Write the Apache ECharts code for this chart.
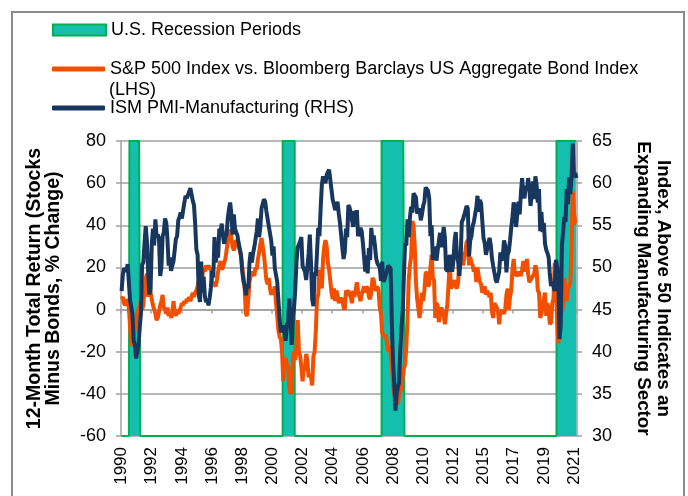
<!DOCTYPE html>
<html><head><meta charset="utf-8">
<script src="https://cdn.jsdelivr.net/npm/echarts@6/dist/echarts.min.js"></script>
<style>html,body{margin:0;padding:0;background:#fff}#c{width:688px;height:496px}</style>
</head><body><div id="c"></div>
<script>
// Monthly categories Jan 1990 .. Jun 2021
const startYear = 1990, endYear = 2021, endMonth = 6;
const categories = [];
for (let y = startYear; y <= endYear; y++) {
  for (let m = 1; m <= 12; m++) {
    if (y === endYear && m > endMonth) break;
    categories.push(y + '-' + String(m).padStart(2, '0'));
  }
}
// Recession periods (shaded)
const recessions = [['1990-08', '1991-04'], ['2001-03', '2001-12'], ['2008-01', '2009-07'], ['2020-02', '2021-06']];

// S&P 500 vs Bloomberg Barclays US Agg: 12-month total return difference (%), LHS
const spxVsAgg = [
  5, 6, 3, 2, 5, 3, 1, -8, -17, -16, -12, -9,          // 1990
  -6, -2, 0, 2, 4, 0, 2, 10, 15, 17, 6, 12,            // 1991
  8, 5, 2, 0, -2, -5, -4, -1, 2, 4, 7, 1,              // 1992
  0, -2, 1, -3, -1, -4, -2, 4, -1, -3, 0, -2,          // 1993
  -2, 1, 3, 2, 4, 3, 5, 4, 6, 4, 6, 8,                 // 1994
  6, 8, 9, 11, 14, 15, 18, 16, 20, 18, 21, 19,         // 1995
  21, 19, 20, 12, 13, 12, 11, 14, 18, 21, 23, 19,      // 1996
  20, 22, 24, 28, 32, 36, 38, 34, 30, 28, 30, 33,      // 1997
  32, 30, 28, 25, 20, 16, 10, -2, -3, 5, 13, 16,       // 1998
  18, 17, 16, 20, 19, 24, 27, 31, 34, 30, 26, 20,      // 1999
  14, 12, 15, 10, 7, 9, 8, 11, 3, -3, -10, -13,        // 2000
  -14, -20, -34, -24, -23, -26, -27, -37, -40, -39, -23, -20, // 2001
  -24, -17, -5, -20, -22, -27, -34, -28, -29, -21, -24, -32,  // 2002
  -31, -32, -36, -22, -20, -10, 5, 7, 19, 15, 10, 24,  // 2003
  30, 33, 30, 22, 19, 19, 8, 5, 10, 4, 9, 7,           // 2004
  3, 5, 5, 5, 1, 0, 9, 8, 9, 7, 6, 3,                  // 2005
  9, 6, 9, 13, 9, 9, 4, 7, 7, 11, 8, 11,               // 2006
  10, 6, 5, 8, 15, 14, 10, 9, 11, 9, 1, -2,            // 2007
  -11, -11, -13, -12, -12, -20, -17, -17, -26, -36, -40, -42, // 2008
  -41, -45, -41, -39, -38, -32, -28, -26, -18, -4, 14, 21,    // 2009
  25, 42, 40, 30, 13, 5, 5, -4, 2, 8, 4, 9,            // 2010
  17, 18, 11, 12, 20, 26, 15, 14, -4, 3, 2, -6,        // 2011
  -1, 1, 1, -3, -7, -2, 2, 12, 22, 10, 11, 12,         // 2012
  14, 11, 10, 13, 26, 21, 27, 21, 21, 28, 32, 33,      // 2013
  21, 25, 22, 21, 18, 20, 13, 20, 16, 13, 12, 8,       // 2014
  8, 11, 7, 9, 9, 6, 8, -1, -4, 3, 2, 1,               // 2015
  -1, -7, 0, -2, -1, -2, 0, 7, 10, 0, 6, 9,            // 2016
  19, 24, 17, 17, 16, 18, 17, 16, 19, 23, 21, 18,      // 2017
  24, 17, 13, 14, 15, 15, 17, 21, 19, 9, 8, -4,        // 2018
  -2, 2, 5, 8, -3, 3, 0, -7, -6, 3, 5, 22,             // 2019
  12, -4, -16, -10, 3, -1, 2, 15, 8, 4, 10, 11,        // 2020
  13, 30, 56, 46, 41, 41                               // 2021
];

// ISM PMI-Manufacturing, RHS
const ismPmi = [
  47.2, 49.1, 49.9, 50.0, 49.5, 50.4, 48.3, 46.1, 46.2, 44.5, 41.3, 40.8, // 1990
  39.2, 39.4, 40.7, 42.8, 44.5, 50.3, 50.6, 52.9, 54.9, 53.1, 49.5, 46.8, // 1991
  47.3, 52.7, 54.6, 52.6, 55.7, 53.6, 53.9, 53.4, 49.0, 50.0, 53.7, 54.2, // 1992
  55.8, 55.3, 53.4, 50.2, 51.2, 49.6, 50.2, 50.7, 50.8, 53.4, 53.7, 55.6, // 1993
  56.0, 56.5, 55.8, 56.8, 57.0, 58.5, 58.2, 58.0, 59.0, 59.4, 59.2, 57.9, // 1994
  57.4, 55.1, 52.1, 51.5, 46.7, 45.9, 50.7, 47.0, 48.9, 46.6, 45.9, 46.2, // 1995
  45.5, 46.4, 47.6, 49.6, 48.8, 53.6, 50.6, 51.6, 51.2, 54.6, 54.2, 55.2, // 1996
  53.8, 52.8, 53.6, 53.9, 55.8, 56.9, 57.7, 56.3, 53.9, 56.3, 54.6, 54.5, // 1997
  53.8, 52.9, 52.2, 51.5, 49.5, 48.4, 47.8, 46.7, 48.0, 47.5, 50.5, 51.8, // 1998
  50.6, 51.7, 52.4, 52.3, 54.3, 55.8, 53.6, 54.8, 57.0, 57.2, 58.1, 57.8, // 1999
  56.7, 55.8, 54.9, 54.7, 53.2, 51.4, 52.5, 49.9, 49.9, 48.3, 48.5, 43.9, // 2000
  42.3, 42.1, 43.1, 42.7, 41.3, 43.2, 43.5, 46.3, 46.2, 40.8, 44.1, 45.3, // 2001
  47.5, 50.7, 52.4, 52.4, 53.1, 53.6, 50.2, 50.3, 49.5, 48.5, 48.5, 51.6, // 2002
  53.9, 50.5, 46.2, 45.4, 49.4, 49.0, 51.8, 54.7, 53.7, 57.0, 59.8, 60.8, // 2003
  61.0, 60.0, 61.0, 61.2, 61.6, 60.4, 60.2, 58.0, 57.5, 56.8, 57.0, 57.8, // 2004
  56.4, 55.3, 55.2, 52.3, 51.0, 51.8, 54.6, 53.6, 57.4, 57.1, 57.0, 55.6, // 2005
  54.8, 56.7, 55.2, 56.8, 53.7, 53.8, 54.7, 54.3, 52.9, 51.2, 49.5, 51.4, // 2006
  49.3, 52.3, 50.9, 54.7, 52.9, 53.8, 52.6, 51.1, 50.5, 50.4, 50.0, 48.4, // 2007
  50.7, 48.3, 48.6, 48.6, 49.6, 50.2, 50.0, 49.9, 43.5, 38.9, 36.2, 33.0, // 2008
  34.9, 35.8, 36.3, 40.1, 42.8, 44.8, 48.9, 52.9, 52.6, 55.7, 53.6, 55.9, // 2009
  57.2, 56.5, 58.8, 58.7, 58.3, 56.4, 56.4, 57.0, 55.6, 56.3, 57.3, 57.8, // 2010
  59.5, 59.4, 59.1, 58.2, 53.7, 55.0, 50.9, 51.4, 52.5, 50.8, 52.0, 53.1, // 2011
  54.1, 52.4, 53.4, 54.8, 53.5, 49.7, 49.8, 49.6, 51.5, 51.7, 49.5, 50.7, // 2012
  53.1, 54.2, 51.3, 50.7, 49.0, 50.9, 55.4, 55.7, 56.2, 56.4, 57.3, 57.0, // 2013
  51.3, 53.2, 53.7, 54.9, 55.4, 55.3, 57.1, 58.5, 56.6, 58.0, 57.6, 55.5, // 2014
  53.5, 52.9, 51.5, 51.5, 52.8, 53.5, 52.7, 51.1, 50.2, 50.1, 48.6, 48.2, // 2015
  48.2, 49.5, 51.8, 50.8, 51.3, 53.2, 52.6, 49.4, 51.5, 51.9, 53.2, 54.7, // 2016
  56.0, 57.7, 57.2, 54.8, 54.9, 57.8, 56.3, 58.8, 60.6, 58.7, 58.2, 59.7, // 2017
  59.1, 60.6, 59.3, 57.3, 58.7, 60.2, 58.1, 60.8, 59.8, 57.7, 59.3, 54.3, // 2018
  56.6, 54.2, 55.3, 52.8, 52.1, 51.7, 51.2, 49.1, 47.8, 48.3, 48.1, 47.2, // 2019
  50.9, 50.1, 49.1, 41.5, 43.1, 52.6, 54.2, 56.0, 55.4, 59.3, 57.5, 60.7, // 2020
  58.7, 60.8, 64.7, 60.7, 61.2, 60.6                                      // 2021
];

const recessionFlags = categories.map(c => recessions.some(([a, b]) => c >= a && c <= b) ? 1 : 0);

const names = {
  rec: 'U.S. Recession Periods',
  spx: 'S&P 500 Index vs. Bloomberg Barclays US Aggregate Bond Index',
  ism: 'ISM PMI-Manufacturing (RHS)'
};
const FONT = 'Liberation Sans, Arial, sans-serif';
const GRID_GRAY = '#A0A0A0';
const TEAL = '#14BFB0', GREEN = '#00B050', ORANGE = '#F25000', NAVY = '#17375E';

const chart = echarts.init(document.getElementById('c'), null, { renderer: 'canvas' });
const legendBase = {
  left: 52, itemWidth: 53, selectedMode: false, padding: 0,
  textStyle: { fontSize: 18, fontFamily: FONT, color: '#000' }
};
chart.setOption({
  animation: false,
  backgroundColor: '#fff',
  textStyle: { fontFamily: FONT },
  grid: { left: 121, right: 111, top: 141, bottom: 60, containLabel: false },
  graphic: [
    { type: 'rect', z: -10, shape: { x: 12, y: 12, width: 672, height: 500 },
      style: { fill: null, stroke: '#8C8C8C', lineWidth: 2 } },
    { type: 'text', x: 109, y: 81, style: { text: '(LHS)', fontSize: 18, fontFamily: FONT, fill: '#000' } }
  ],
  legend: [
    Object.assign({}, legendBase, { data: [names.rec], top: 21, itemHeight: 11, icon: 'rect',
      itemStyle: { color: TEAL, borderColor: GREEN, borderWidth: 2 } }),
    Object.assign({}, legendBase, { data: [names.spx], top: 60, itemHeight: 5, icon: 'roundRect' }),
    Object.assign({}, legendBase, { data: [names.ism], top: 99, itemHeight: 5, icon: 'roundRect' })
  ],
  xAxis: [
    { type: 'category', data: categories, boundaryGap: true, position: 'bottom',
      axisLine: { show: false, onZero: false }, axisTick: { show: false },
      axisLabel: { interval: 24, rotate: 90, fontSize: 17, fontFamily: FONT, color: '#000', margin: 11,
        formatter: v => v.slice(0, 4) },
      splitLine: { show: false } },
    { type: 'category', data: categories, boundaryGap: true, position: 'bottom',
      axisLine: { show: true, onZero: true, onZeroAxisIndex: 0, lineStyle: { color: GRID_GRAY, width: 1.5 } },
      axisTick: { show: true, interval: 24, length: 4, lineStyle: { color: GRID_GRAY, width: 1.5 } },
      axisLabel: { show: false }, splitLine: { show: false } }
  ],
  yAxis: [
    { type: 'value', min: -60, max: 80, interval: 20, position: 'left',
      name: '12-Month Total Return (Stocks\nMinus Bonds, % Change)',
      nameLocation: 'middle', nameRotate: 90, nameGap: 58,
      nameTextStyle: { fontSize: 19.5, fontWeight: 'bold', fontFamily: FONT, color: '#000', lineHeight: 19 },
      axisLine: { show: true, lineStyle: { color: GRID_GRAY, width: 1.5 } },
      axisTick: { show: true, length: 5, lineStyle: { color: GRID_GRAY, width: 1.5 } },
      axisLabel: { fontSize: 18, fontFamily: FONT, color: '#000', margin: 15 },
      splitLine: { show: true, lineStyle: { color: GRID_GRAY, width: 1.5 } } },
    { type: 'value', min: 30, max: 65, interval: 5, position: 'right',
      name: 'Index, Above 50 Indicates an\nExpanding Manufacturing Sector',
      nameLocation: 'middle', nameRotate: -90, nameGap: 56,
      nameTextStyle: { fontSize: 18.8, fontWeight: 'bold', fontFamily: FONT, color: '#000', lineHeight: 20 },
      axisLine: { show: true, lineStyle: { color: GRID_GRAY, width: 1.5 } },
      axisTick: { show: true, length: 5, lineStyle: { color: GRID_GRAY, width: 1.5 } },
      axisLabel: { fontSize: 18, fontFamily: FONT, color: '#000', margin: 15 },
      splitLine: { show: false } },
    { type: 'value', min: 0, max: 1, show: false }
  ],
  series: [
    { name: names.rec, type: 'line', step: 'middle', xAxisIndex: 0, yAxisIndex: 2, data: recessionFlags,
      symbol: 'none', clip: false, z: 1, color: TEAL,
      lineStyle: { color: GREEN, width: 2 }, areaStyle: { color: TEAL, opacity: 1 } },
    { name: names.spx, type: 'line', xAxisIndex: 0, yAxisIndex: 0, data: spxVsAgg,
      symbol: 'none', z: 3, color: ORANGE, lineStyle: { color: ORANGE, width: 4 } },
    { name: names.ism, type: 'line', xAxisIndex: 0, yAxisIndex: 1, data: ismPmi,
      symbol: 'none', z: 4, color: NAVY, lineStyle: { color: NAVY, width: 4 } }
  ]
});
</script>
</body></html>
